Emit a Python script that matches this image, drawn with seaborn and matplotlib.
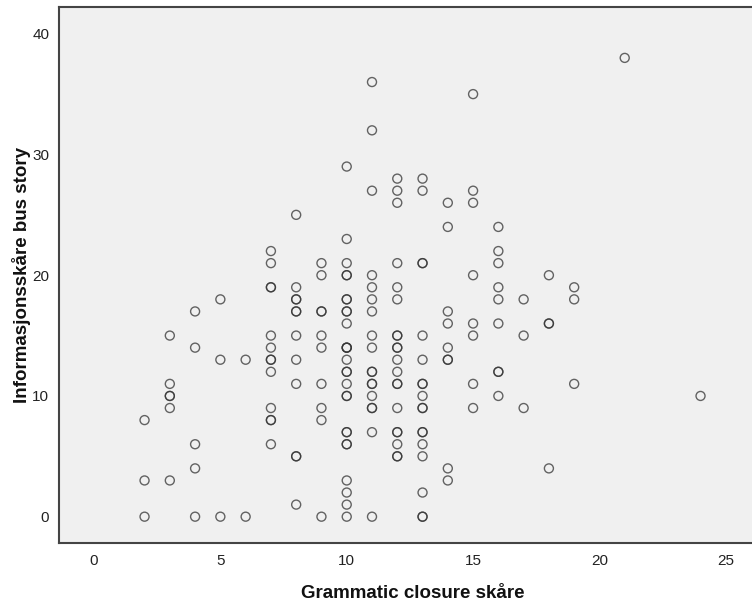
import matplotlib
matplotlib.use("Agg")
import matplotlib.pyplot as plt
import seaborn as sns

# Grammatic closure score (x) and information score (y), one list entry per case.
# Repeated pairs are cases that sit on the same spot.
grammatic = (
    [2, 2, 2]
    + [3, 3, 3, 3, 3, 3]
    + [4, 4, 4, 4, 4]
    + [5, 5, 5]
    + [6, 6]
    + [7] * 13
    + [8] * 12
    + [9] * 10
    + [10] * 27
    + [11] * 18
    + [12] * 20
    + [13] * 18
    + [14] * 9
    + [15] * 8
    + [16] * 9
    + [17] * 3
    + [18] * 4
    + [19] * 3
    + [21]
    + [24]
)
information = (
    [8, 3, 0]
    + [15, 11, 10, 10, 9, 3]
    + [17, 14, 6, 4, 0]
    + [18, 13, 0]
    + [13, 0]
    + [22, 21, 19, 19, 15, 14, 13, 13, 12, 9, 8, 8, 6]
    + [25, 19, 18, 18, 17, 17, 15, 13, 11, 5, 5, 1]
    + [21, 20, 17, 17, 15, 14, 11, 9, 8, 0]
    + [29, 23, 21, 20, 20, 18, 18, 17, 17, 16, 14, 14, 14, 13, 12, 12,
       11, 10, 10, 7, 7, 6, 6, 3, 2, 1, 0]
    + [36, 32, 27, 20, 19, 18, 17, 15, 14, 12, 12, 11, 11, 10, 9, 9, 7, 0]
    + [28, 27, 26, 21, 19, 18, 15, 15, 14, 14, 13, 12, 11, 11, 9, 7, 7, 6, 5, 5]
    + [28, 27, 21, 21, 15, 13, 11, 11, 10, 9, 9, 7, 7, 6, 5, 2, 0, 0]
    + [26, 24, 17, 16, 14, 13, 13, 4, 3]
    + [35, 27, 26, 20, 16, 15, 11, 9]
    + [24, 22, 21, 19, 18, 16, 12, 12, 10]
    + [18, 15, 9]
    + [20, 16, 16, 4]
    + [19, 18, 11]
    + [38]
    + [10]
)

x_ticks = [0, 5, 10, 15, 20, 25]
y_ticks = [0, 10, 20, 30, 40]

sns.set_theme(style="white")
plt.rcParams["font.family"] = ["Liberation Sans", "DejaVu Sans"]

fig = plt.figure(figsize=(7.52, 6.03), dpi=100)
ax = fig.add_axes([59 / 752, 60 / 603, 708 / 752, 536.3 / 603])
ax.set_facecolor("#f0f0f0")

sns.scatterplot(
    x=grammatic,
    y=information,
    ax=ax,
    marker="o",
    s=42,
    facecolor="none",
    edgecolor=(0.2, 0.2, 0.2, 0.75),
    linewidth=1.0,
)

ax.set_xlim(-1.385, 26.63)
ax.set_ylim(-2.18, 42.24)
ax.set_xticks(x_ticks)
ax.set_yticks(y_ticks)
ax.tick_params(axis="both", direction="out", length=5, width=1.2,
               color="#333333", labelsize=11, labelcolor="#222222", pad=2)
ax.tick_params(axis="x", pad=3)

for side in ["left", "bottom", "top"]:
    ax.spines[side].set_color("#444444")
    ax.spines[side].set_linewidth(1.5)
ax.spines["right"].set_visible(False)

ax.set_xlabel("Grammatic closure skåre", fontsize=13.5, fontweight="bold",
              color="#111111", labelpad=12)
ax.set_ylabel("Informasjonsskåre bus story", fontsize=13.5, fontweight="bold",
              color="#111111", labelpad=1)

fig.savefig("out.png", dpi=100)
